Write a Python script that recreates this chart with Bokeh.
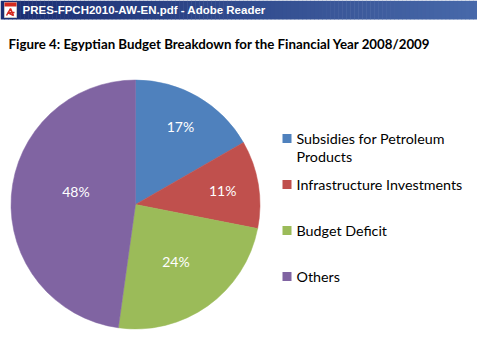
import numpy as np
from bokeh.plotting import figure
from bokeh.models import Range1d, ColumnDataSource
from bokeh.core.properties import value
from bokeh.embed import file_html
from bokeh.resources import INLINE

# ---- data ----
categories = ["Subsidies for Petroleum Products", "Infrastructure Investments", "Budget Deficit", "Others"]
legend_lines = [["Subsidies for Petroleum", "Products"], ["Infrastructure Investments"], ["Budget Deficit"], ["Others"]]
shares = [16.7, 11.4, 24.1, 47.8]
labels = ["17%", "11%", "24%", "48%"]
colors = ["#4F81BD", "#C0504D", "#9BBB59", "#8064A2"]
window_title = "PRES-FPCH2010-AW-EN.pdf - Adobe Reader"
chart_title = "Figure 4: Egyptian Budget Breakdown for the Financial Year 2008/2009"

W, H = 477, 352
def Y(y):
    return H - y

p = figure(width=W, height=H, output_backend="svg", toolbar_location=None,
           x_range=Range1d(0, W), y_range=Range1d(0, H), min_border=0)
p.axis.visible = False
p.grid.visible = False
p.outline_line_color = None
p.background_fill_color = "white"
p.border_fill_color = "white"

# ---- window title bar (gradient made of strips) ----
n = 120
c0 = np.array([0x1B, 0x2E, 0x72])
c1 = np.array([0x48, 0x69, 0xAA])
xs = np.linspace(0, W, n + 1)
strip_cols = []
for i in range(n):
    t = i / (n - 1)
    c = (c0 * (1 - t) + c1 * t).astype(int)
    strip_cols.append("#%02x%02x%02x" % tuple(c))
p.quad(left=xs[:-1], right=xs[1:] + 0.5, top=Y(0), bottom=Y(19), fill_color=strip_cols, line_color=None)

# pdf icon
p.quad(left=[4], right=[16], top=[Y(2)], bottom=[Y(17)], fill_color="#ffffff", line_color="#c8c8c8")
p.quad(left=[4], right=[16], top=[Y(2)], bottom=[Y(6)], fill_color="#d42a20", line_color=None)
p.line(x=[6, 10, 13, 7, 14], y=[Y(15), Y(8), Y(15), Y(12), Y(12)], line_color="#d42a20", line_width=1.5)

p.text(x=[22], y=[Y(9.5)], text=[window_title], text_color="white",
       text_font=value("Liberation Sans"), text_font_style="bold", text_font_size="11.5px",
       text_baseline="middle", text_align="left")

# ---- chart title ----
p.text(x=[8], y=[Y(43)], text=[chart_title], text_color="#000000",
       text_font=value("Lato"), text_font_style="bold", text_font_size="13.3px",
       text_baseline="middle", text_align="left")

# ---- pie ----
cx, cy, r = 135, 204, 124.5
fr = np.array(shares) / sum(shares)
cum = np.concatenate([[0], np.cumsum(fr)])
start = np.pi / 2 - 2 * np.pi * cum[:-1]
end = np.pi / 2 - 2 * np.pi * cum[1:]
src = ColumnDataSource(dict(start=start, end=end, color=colors))
p.wedge(x=cx, y=Y(cy), radius=r, start_angle="start", end_angle="end", direction="clock",
        fill_color="color", line_color="color", line_width=0.5, source=src)

label_r = [0.72, 0.71, 0.56, 0.48]
label_dy = [0, 0, 0, -9]
mid = (start + end) / 2
lx = [cx + r * label_r[i] * np.cos(mid[i]) for i in range(4)]
ly = [Y(cy) + r * label_r[i] * np.sin(mid[i]) - label_dy[i] for i in range(4)]
p.text(x=lx, y=ly, text=labels, text_color="white", text_font=value("Lato"),
       text_font_size="14px", text_align="center", text_baseline="middle")

# ---- legend ----
leg_y = [138, 184, 230, 276]
for i, lines in enumerate(legend_lines):
    y0 = leg_y[i]
    p.quad(left=[282], right=[291], top=[Y(y0 - 4.5)], bottom=[Y(y0 + 4.5)], fill_color=colors[i], line_color=None)
    for j, t in enumerate(lines):
        p.text(x=[296], y=[Y(y0 + 18 * j)], text=[t], text_color="#000000", text_font=value("Lato"),
               text_font_size="14.3px", text_align="left", text_baseline="middle")

open("out.html", "w").write(file_html(p, INLINE))
